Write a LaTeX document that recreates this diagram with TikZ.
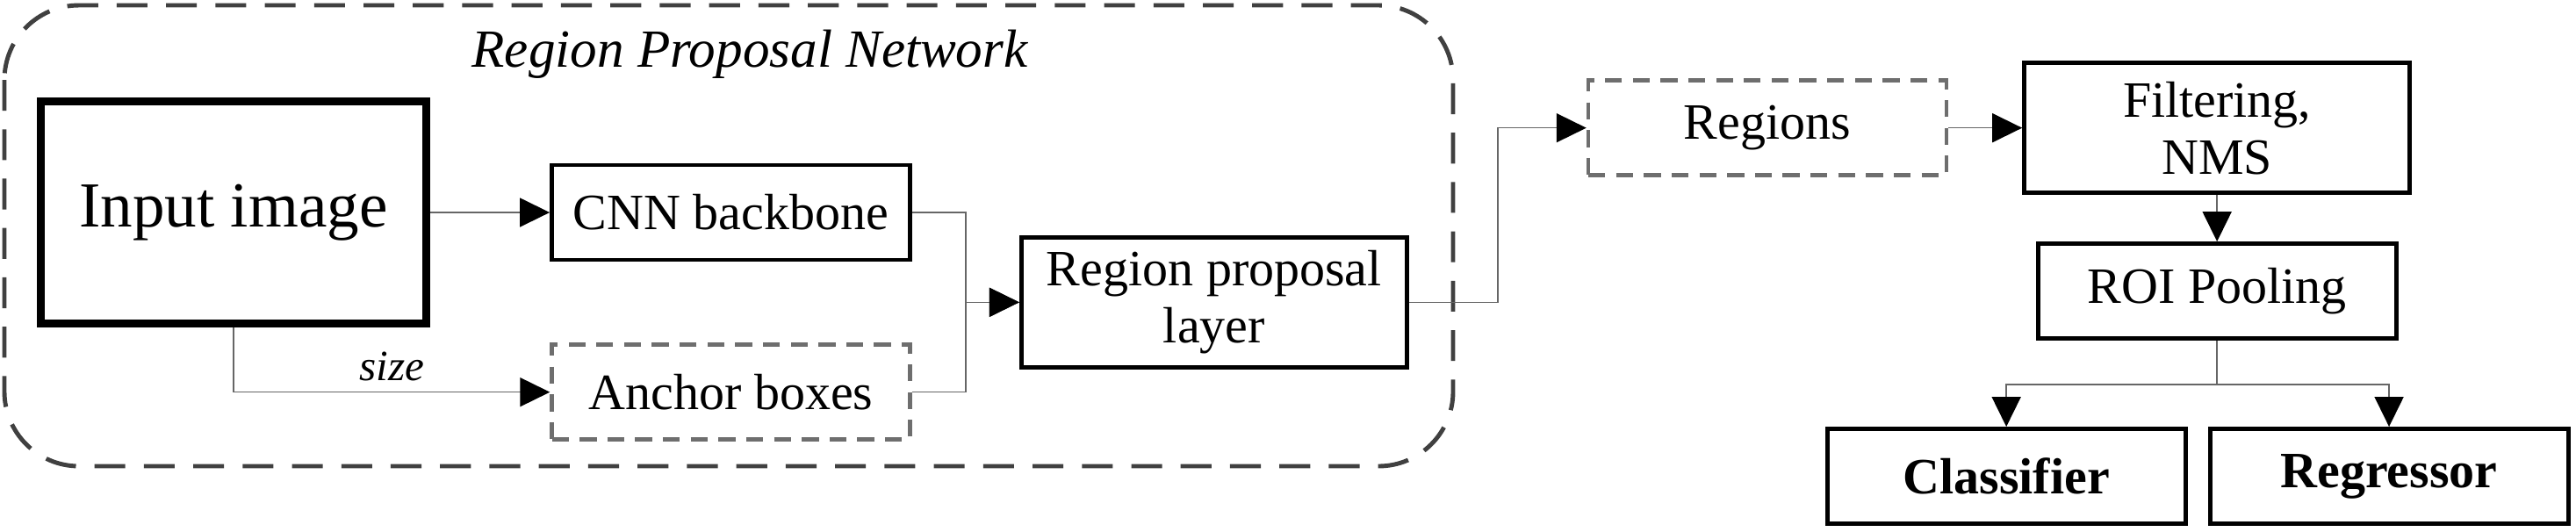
\documentclass[tikz,border=0pt]{standalone}
\usepackage{fontspec}
\setmainfont{Liberation Serif}
\usetikzlibrary{positioning,calc,arrows.meta}

\begin{document}
\begin{tikzpicture}[
        node distance=1cm,
        block/.style={rectangle, draw, line width=1.4pt, minimum width=4.08cm, minimum height=1.08cm, align=center, font=\fontsize{16.5}{18.5}\selectfont},
        dblock/.style={block, draw=black!57, dash pattern=on 5.5pt off 3.5pt, line width=1.25pt},
        tallblock/.style={block, minimum width=4.39cm, minimum height=1.48cm},
        bigblock/.style={block, line width=2.6pt, minimum width=4.39cm, minimum height=2.53cm, font=\fontsize{20.8}{24}\selectfont},
        rpn/.style={draw=black!75, line width=1.4pt, dash pattern=on 10pt off 6pt, rounded corners=0.85cm},
        line/.style={draw=black!60, line width=0.45pt},
        arrow/.style={line, -{Triangle[length=3.4mm,width=3.3mm,color=black]}}
    ]
        \useasboundingbox (0,0) rectangle (29.34,-6.05);
        \draw[rpn] (0.05,-0.06) rectangle (16.55,-5.31);
        \node[font=\fontsize{17.4}{20}\selectfont\itshape] (rpntitle) at (8.54,-0.62) {Region Proposal Network};

        \node[bigblock] (img) at (2.66,-2.42) {Input image};
        \node[block, right=1.36cm of img] (cnn) {CNN backbone};
        \node[dblock, below=0.92cm of cnn] (anchor) {Anchor boxes};
        \coordinate (mid) at ($(cnn.east)!0.5!(anchor.east)$);
        \node[tallblock, right=1.22cm of mid] (rpl) {Region proposal\\layer};
        \node[dblock, above right=0.66cm and 2.02cm of rpl] (regions) {Regions};
        \node[tallblock, right=0.84cm of regions] (filter) {Filtering,\\NMS};
        \node[block, below=0.53cm of filter] (roi) {ROI Pooling};
        \node[block, below=0.98cm of roi, xshift=-2.4cm, font=\fontsize{16.5}{18.5}\selectfont\bfseries] (cls) {Classifier};
        \node[block, right=0.23cm of cls, font=\fontsize{16.5}{18.5}\selectfont\bfseries] (reg) {Regressor};

        \draw[arrow] (img) -- (cnn);
        \draw[arrow] (img.south) |- node[pos=0.75, above, font=\fontsize{14}{16}\selectfont\itshape] {size} (anchor.west);
        \draw[arrow] (cnn.east) -- ++(0.61,0) |- (rpl.west);
        \draw[arrow] (anchor.east) -- ++(0.61,0) |- (rpl.west);
        \draw[arrow] (rpl.east) -- ++(1.01,0) |- (regions.west);
        \draw[arrow] (regions) -- (filter);
        \draw[arrow] (filter) -- (roi);
        \draw[arrow] (roi.south) -- ++(0,-0.5) -| (cls.north);
        \draw[arrow] (roi.south) -- ++(0,-0.5) -| (reg.north);
    \end{tikzpicture}
\end{document}
